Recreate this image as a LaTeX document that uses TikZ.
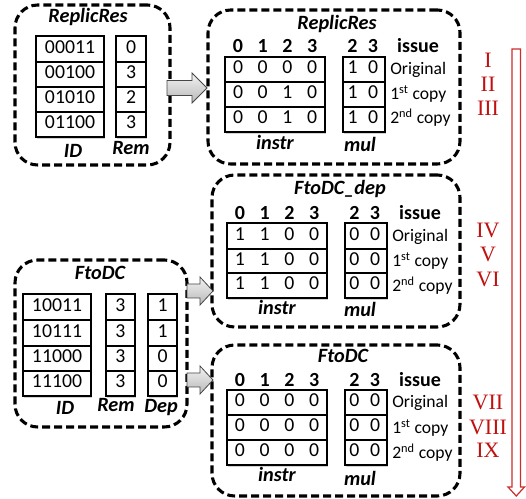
\documentclass[tikz,border=0pt]{standalone}
\usepackage{fontspec}
\setmainfont{Carlito}
\newfontfamily\romfont{Liberation Serif}
\usetikzlibrary{shadows}
\definecolor{numred}{RGB}{192,16,16}
\definecolor{arrred}{RGB}{205,45,45}
\tikzset{
  group/.style={draw, line width=2.3pt, dash pattern=on 6pt off 3pt, rounded corners=17pt, inner sep=0pt},
  cellst/.style={draw, line width=0.8pt, fill=white, inner sep=0pt,
     drop shadow={shadow xshift=0.5pt, shadow yshift=-1.2pt, opacity=0.35}},
  txt/.style={font=\fontsize{14.8}{16}\selectfont, inner sep=0pt, text height=1.38ex, text depth=0pt},
  hdr/.style={txt, font=\fontsize{15}{16}\selectfont\bfseries},
  ttl/.style={txt, font=\fontsize{15.2}{17}\selectfont\bfseries\itshape},
  iss/.style={txt, font=\fontsize{13.2}{15}\selectfont, anchor=west},
  rnum/.style={inner sep=0pt, text height=1.4ex, text depth=0pt, font=\romfont\fontsize{16.5}{18}\selectfont, text=numred},
  barrow/.style={draw=gray!55!black, line width=0.6pt, top color=gray!10, bottom color=gray!55},
}
% group box: name, x1, y1, x2, y2
\newcommand\gbox[5]{\node[group, minimum width={(#4-#2)*0.75pt}, minimum height={(#5-#3)*0.75pt}] (#1) at ({(#2+#4)/2},{(#3+#5)/2}) {};}
% cell with text: name, x1, y1, x2, y2, text
\newcommand\cbox[6]{\node[cellst, txt, minimum width={(#4-#2)*0.75pt}, minimum height={(#5-#3)*0.75pt}] (#1) at ({(#2+#4)/2},{(#3+#5)/2}) {#6};}
% right table row: name, instr left, mul left, ytop, ybot, instr digits, mul digits
\newcommand\rrow[7]{%
  \node[cellst, minimum width=75pt, minimum height={(#5-#4)*0.75pt}] (#1i) at ({#2+50},{(#4+#5)/2}) {};
  \node[cellst, minimum width={(42)*0.75pt}, minimum height={(#5-#4)*0.75pt}] (#1m) at ({#3+21},{(#4+#5)/2}) {};
  \foreach \d [count=\k] in {#6} {\node[txt] (#1i\k) at ({#2+13+(\k-1)*24.7},{(#4+#5)/2}) {\d};}
  \foreach \d [count=\k] in {#7} {\node[txt] (#1m\k) at ({#3+9.5+(\k-1)*20.5},{(#4+#5)/2}) {\d};}
}
% header: prefix, instr left, mul left, y, issue x
\newcommand\rhdr[5]{%
  \foreach \d [count=\k] in {0,1,2,3} {\node[hdr] (#1h\k) at ({#2+13+(\k-1)*24.7},#4) {\d};}
  \node[hdr] (#1h5) at ({#3+9.5},#4) {2};
  \node[hdr] (#1h6) at ({#3+30},#4) {3};
  \node[hdr] (#1iss) at (#5,#4) {issue};
}
\newcommand\blockarrow[6]{% x0, tip, yc, head start, half head, half body
  \draw[barrow] (#1,#3-#6) -- (#4,#3-#6) -- (#4,#3-#5) -- (#2,#3) -- (#4,#3+#5) -- (#4,#3+#6) -- (#1,#3+#6) -- cycle;}
\begin{document}
\begin{tikzpicture}[x=0.75pt,y=-0.75pt]
\useasboundingbox (0,0) rectangle (526,499);

% ---------- left top: ReplicRes ----------
\gbox{g1}{15}{5}{170}{165}
\node[ttl] (t1) at (88,18) {ReplicRes};
\cbox{a1}{36}{36}{104}{62}{00011}
\cbox{a2}{36}{62}{104}{87}{00100}
\cbox{a3}{36}{87}{104}{112}{01010}
\cbox{a4}{36}{112}{104}{137}{01100}
\cbox{b1}{116}{36}{146}{62}{0}
\cbox{b2}{116}{62}{146}{87}{3}
\cbox{b3}{116}{87}{146}{112}{2}
\cbox{b4}{116}{112}{146}{137}{3}
\node[ttl] (l1) at (73,153) {ID};
\node[ttl] (l2) at (131,150) {Rem};

% ---------- left bottom: FtoDC ----------
\gbox{g3}{15}{260}{187}{427}
\node[ttl] (t3) at (100,275) {FtoDC};
\cbox{c1}{23}{294}{91}{320}{10011}
\cbox{c2}{23}{320}{91}{346}{10111}
\cbox{c3}{23}{346}{91}{371}{11000}
\cbox{c4}{23}{371}{91}{396}{11100}
\cbox{d1}{106}{294}{135}{320}{3}
\cbox{d2}{106}{320}{135}{346}{3}
\cbox{d3}{106}{346}{135}{371}{3}
\cbox{d4}{106}{371}{135}{396}{3}
\cbox{e1}{148}{294}{177}{320}{1}
\cbox{e2}{148}{320}{177}{346}{1}
\cbox{e3}{148}{346}{177}{371}{0}
\cbox{e4}{148}{371}{177}{396}{0}
\node[ttl] (l3) at (65,410) {ID};
\node[ttl] (l4) at (116,407) {Rem};
\node[ttl] (l5) at (161,408) {Dep};

% ---------- right 1: ReplicRes ----------
\gbox{g2}{208}{10}{460}{164}
\node[ttl] (t2) at (337,25) {ReplicRes};
\rhdr{p}{225}{343}{48}{418}
\rrow{p1}{225}{343}{57}{82}{0,0,0,0}{1,0}
\rrow{p2}{225}{343}{82}{107}{0,0,1,0}{1,0}
\rrow{p3}{225}{343}{107}{132}{0,0,1,0}{1,0}
\node[iss] (p1o) at (390,70) {Original};
\node[iss] (p2o) at (390,95) {1\textsuperscript{st} copy};
\node[iss] (p3o) at (390,119) {2\textsuperscript{nd} copy};
\node[ttl] (p4) at (275,145) {instr};
\node[ttl] (p5) at (360,147) {mul};

% ---------- right 2: FtoDC_dep ----------
\gbox{g4}{212}{175}{460}{327}
\node[ttl] (t4) at (340,190) {FtoDC\_dep};
\rhdr{q}{227}{345}{215}{420}
\rrow{q1}{227}{345}{223}{249}{1,1,0,0}{0,0}
\rrow{q2}{227}{345}{249}{273}{1,1,0,0}{0,0}
\rrow{q3}{227}{345}{273}{298}{1,1,0,0}{0,0}
\node[iss] (q1o) at (392,237) {Original};
\node[iss] (q2o) at (392,262) {1\textsuperscript{st} copy};
\node[iss] (q3o) at (392,287) {2\textsuperscript{nd} copy};
\node[ttl] (q4) at (277,310) {instr};
\node[ttl] (q5) at (360,312) {mul};

% ---------- right 3: FtoDC ----------
\gbox{g5}{212}{345}{460}{496}
\node[ttl] (t5) at (343,358) {FtoDC};
\rhdr{r}{227}{345}{382}{420}
\rrow{r1}{227}{345}{390}{415}{0,0,0,0}{0,0}
\rrow{r2}{227}{345}{415}{440}{0,0,0,0}{0,0}
\rrow{r3}{227}{345}{440}{465}{0,0,0,0}{0,0}
\node[iss] (r1o) at (392,403) {Original};
\node[iss] (r2o) at (392,429) {1\textsuperscript{st} copy};
\node[iss] (r3o) at (392,454) {2\textsuperscript{nd} copy};
\node[ttl] (r4) at (277,477) {instr};
\node[ttl] (r5) at (360,481) {mul};

% ---------- block arrows ----------
\blockarrow{167}{207}{88}{192}{15}{7.5}
\blockarrow{187}{213}{291}{200}{14}{7}
\blockarrow{187}{213}{380}{200}{14}{7}

% ---------- roman numerals ----------
\node[rnum] (n1) at (488,63) {I};
\node[rnum] (n2) at (488,87) {II};
\node[rnum] (n3) at (488,111) {III};
\node[rnum] (n4) at (488,233) {IV};
\node[rnum] (n5) at (488,257) {V};
\node[rnum] (n6) at (488,282) {VI};
\node[rnum] (n7) at (488,405) {VII};
\node[rnum] (n8) at (488,430) {VIII};
\node[rnum] (n9) at (488,453) {IX};

% ---------- red hollow arrow ----------
\draw[arrred, line width=0.9pt, fill=white]
  (512,49) -- (520.5,49) -- (520.5,487) -- (524.5,487) -- (516.25,496)
  -- (508,487) -- (512,487) -- cycle;
\end{tikzpicture}
\end{document}
